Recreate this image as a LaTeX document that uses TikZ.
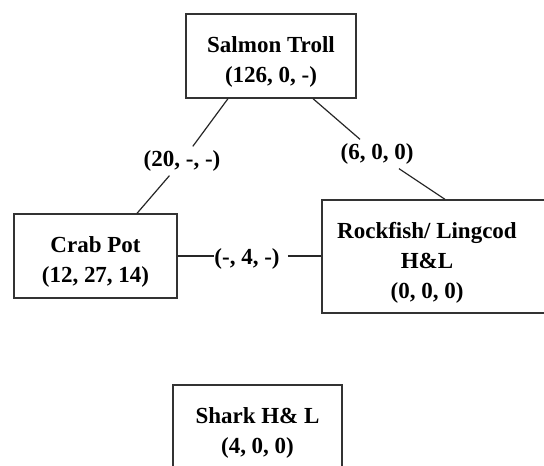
\documentclass[tikz,border=0pt]{standalone}
\usepackage{fontspec}
\setmainfont{Liberation Serif}
\usepackage{tikz}
\tikzset{box/.style={draw=black!80, line width=1.3pt, rectangle, align=center, font=\fontsize{23}{30}\selectfont\bfseries}}
\tikzset{lbl/.style={inner xsep=4pt, inner ysep=4pt, font=\fontsize{23}{30}\selectfont\bfseries}}
\tikzset{edge/.style={draw=black!85, line width=1.2pt}}

\begin{document}
\begin{tikzpicture}[x=1pt, y=-1pt]
    \useasboundingbox (0, 0) rectangle (544, 466);
    \node[box, minimum width=170pt, minimum height=84pt] (ST) at (271, 56) {\rule{0pt}{28pt}Salmon Troll\\(126, 0, -)};
    \node[box, minimum width=163pt, minimum height=84pt] (CP) at (95.5, 256) {\rule{0pt}{28pt}Crab Pot\\(12, 27, 14)};
    \node[box, minimum width=240pt, minimum height=113pt] (RL) at (442, 256.5) {};
    \node[box, draw=none] (RLt) at (427, 263) {Rockfish/ Lingcod\\H\&L\\(0, 0, 0)};
    \node[box, minimum width=169pt, minimum height=90pt] (SH) at (257.5, 430) {\rule{0pt}{22pt}Shark H\& L\\(4, 0, 0)};
    \node[lbl] (STCP) at (182, 161) {(20, -, -)};
    \node[lbl] (STRL) at (377, 154) {(6, 0, 0)};
    \node[lbl, inner xsep=0pt] (CPRL) at (247, 259) {(-, 4, -)};
    \draw[edge] ([xshift=-43pt]ST.south) -- (STCP);
    \draw[edge] (STCP) -- ([xshift=41.5pt]CP.north);
    \draw[edge] ([xshift=42pt]ST.south) -- (STRL);
    \draw[edge] (STRL) -- ([xshift=3pt]RL.north);
    \draw[edge] (CP.east) -- (CP.east -| CPRL.west);
    \draw[edge] ([xshift=8pt]CPRL.east |- CP.east) -- (RL.west |- CP.east);
\end{tikzpicture}
\end{document}
